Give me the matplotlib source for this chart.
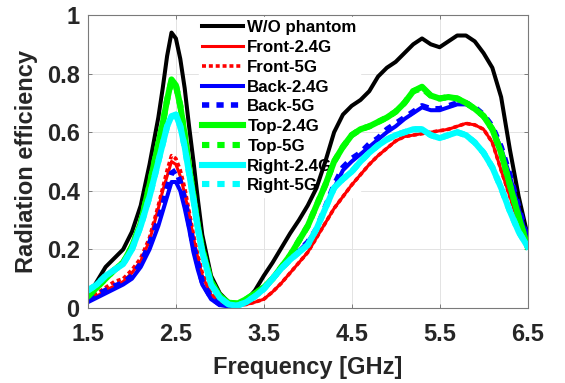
import matplotlib
matplotlib.use('Agg')
import matplotlib.pyplot as plt

# Frequency points (GHz)
freq = [1.5, 1.6, 1.7, 1.8, 1.9, 2.0, 2.1, 2.2, 2.3, 2.35, 2.4, 2.45, 2.5, 2.55, 2.6, 2.65,
        2.7, 2.75, 2.8, 2.9, 3.0, 3.1, 3.2, 3.3, 3.4, 3.5, 3.6, 3.7, 3.8, 3.9, 4.0, 4.1,
        4.2, 4.3, 4.4, 4.5, 4.6, 4.7, 4.8, 4.9, 5.0, 5.1, 5.2, 5.3, 5.4, 5.5, 5.6, 5.7,
        5.8, 5.9, 6.0, 6.1, 6.2, 6.3, 6.4, 6.5]

wo_phantom = [0.04, 0.09, 0.14, 0.17, 0.20, 0.26, 0.35, 0.49, 0.65, 0.75, 0.86, 0.94, 0.92, 0.85, 0.75, 0.62,
              0.50, 0.37, 0.25, 0.11, 0.05, 0.02, 0.012, 0.025, 0.06, 0.11, 0.155, 0.205, 0.255, 0.30, 0.35, 0.41,
              0.50, 0.60, 0.66, 0.69, 0.71, 0.74, 0.79, 0.82, 0.84, 0.87, 0.90, 0.92, 0.90, 0.89, 0.91, 0.93,
              0.93, 0.91, 0.87, 0.82, 0.72, 0.54, 0.38, 0.25]

front_24 = [0.02, 0.04, 0.06, 0.075, 0.09, 0.12, 0.16, 0.23, 0.34, 0.40, 0.45, 0.50, 0.49, 0.45, 0.39, 0.32,
            0.24, 0.17, 0.11, 0.045, 0.02, 0.01, 0.01, 0.012, 0.02, 0.03, 0.055, 0.085, 0.12, 0.155, 0.19, 0.24,
            0.29, 0.34, 0.38, 0.42, 0.455, 0.49, 0.52, 0.545, 0.57, 0.585, 0.59, 0.595, 0.60, 0.605, 0.61, 0.62,
            0.63, 0.625, 0.61, 0.565, 0.47, 0.38, 0.29, 0.22]

front_5 = [0.03, 0.05, 0.07, 0.09, 0.10, 0.13, 0.17, 0.24, 0.35, 0.41, 0.47, 0.52, 0.51, 0.47, 0.41, 0.33,
           0.25, 0.18, 0.12, 0.05, 0.02, 0.01, 0.01, 0.012, 0.02, 0.03, 0.055, 0.085, 0.12, 0.155, 0.19, 0.24,
           0.29, 0.34, 0.38, 0.42, 0.455, 0.49, 0.52, 0.545, 0.57, 0.585, 0.59, 0.595, 0.60, 0.605, 0.61, 0.62,
           0.63, 0.625, 0.61, 0.565, 0.47, 0.38, 0.29, 0.22]

back_24 = [0.02, 0.035, 0.05, 0.065, 0.08, 0.10, 0.14, 0.20, 0.28, 0.33, 0.38, 0.43, 0.43, 0.40, 0.34, 0.27,
           0.19, 0.13, 0.08, 0.03, 0.01, 0.005, 0.008, 0.02, 0.04, 0.065, 0.10, 0.135, 0.165, 0.195, 0.225, 0.27,
           0.34, 0.41, 0.47, 0.50, 0.525, 0.55, 0.575, 0.60, 0.62, 0.645, 0.665, 0.685, 0.675, 0.675, 0.685, 0.695,
           0.695, 0.68, 0.655, 0.615, 0.545, 0.45, 0.34, 0.23]

back_5 = [0.03, 0.045, 0.06, 0.075, 0.085, 0.11, 0.15, 0.22, 0.30, 0.35, 0.41, 0.46, 0.47, 0.43, 0.37, 0.29,
          0.21, 0.15, 0.09, 0.035, 0.012, 0.006, 0.008, 0.02, 0.04, 0.065, 0.10, 0.135, 0.165, 0.195, 0.225, 0.27,
          0.345, 0.42, 0.48, 0.51, 0.53, 0.56, 0.58, 0.61, 0.63, 0.65, 0.67, 0.69, 0.68, 0.68, 0.69, 0.70,
          0.70, 0.685, 0.66, 0.62, 0.55, 0.455, 0.345, 0.235]

top_24 = [0.04, 0.07, 0.10, 0.13, 0.155, 0.21, 0.29, 0.42, 0.56, 0.63, 0.71, 0.78, 0.76, 0.69, 0.59, 0.48,
          0.38, 0.28, 0.20, 0.09, 0.04, 0.018, 0.015, 0.03, 0.05, 0.07, 0.10, 0.14, 0.18, 0.23, 0.28, 0.35,
          0.42, 0.50, 0.55, 0.59, 0.61, 0.62, 0.635, 0.65, 0.67, 0.70, 0.74, 0.755, 0.725, 0.715, 0.72, 0.715,
          0.70, 0.68, 0.655, 0.61, 0.53, 0.42, 0.31, 0.21]

top_5 = [0.04, 0.07, 0.10, 0.13, 0.155, 0.21, 0.29, 0.42, 0.56, 0.63, 0.71, 0.775, 0.76, 0.69, 0.59, 0.48,
         0.38, 0.28, 0.20, 0.09, 0.04, 0.018, 0.015, 0.03, 0.05, 0.07, 0.10, 0.14, 0.18, 0.23, 0.28, 0.35,
         0.42, 0.50, 0.55, 0.59, 0.61, 0.62, 0.635, 0.65, 0.67, 0.70, 0.74, 0.75, 0.725, 0.715, 0.72, 0.715,
         0.70, 0.68, 0.655, 0.61, 0.53, 0.42, 0.31, 0.21]

right_24 = [0.06, 0.08, 0.11, 0.13, 0.15, 0.20, 0.28, 0.38, 0.50, 0.56, 0.62, 0.655, 0.66, 0.62, 0.55, 0.46,
            0.37, 0.27, 0.19, 0.08, 0.035, 0.012, 0.008, 0.02, 0.04, 0.065, 0.10, 0.135, 0.165, 0.19, 0.215, 0.27,
            0.34, 0.41, 0.44, 0.465, 0.50, 0.53, 0.555, 0.575, 0.59, 0.60, 0.61, 0.61, 0.59, 0.58, 0.59, 0.60,
            0.59, 0.565, 0.53, 0.48, 0.41, 0.33, 0.26, 0.21]

right_5 = [0.06, 0.08, 0.11, 0.13, 0.15, 0.20, 0.28, 0.38, 0.50, 0.56, 0.62, 0.65, 0.66, 0.62, 0.55, 0.46,
           0.37, 0.27, 0.19, 0.08, 0.035, 0.012, 0.008, 0.02, 0.04, 0.065, 0.10, 0.135, 0.165, 0.19, 0.215, 0.27,
           0.34, 0.41, 0.44, 0.465, 0.50, 0.53, 0.555, 0.575, 0.59, 0.60, 0.61, 0.61, 0.59, 0.58, 0.59, 0.60,
           0.59, 0.565, 0.53, 0.48, 0.41, 0.33, 0.26, 0.21]

xticks = [1.5, 2.5, 3.5, 4.5, 5.5, 6.5]
yticks = [0, 0.2, 0.4, 0.6, 0.8, 1]
ytick_labels = ['0', '0.2', '0.4', '0.6', '0.8', '1']

plt.rcParams['font.family'] = ['Liberation Sans', 'DejaVu Sans']
plt.rcParams['font.weight'] = 'bold'
txt = '#262626'

fig = plt.figure(figsize=(5.65, 3.83), dpi=100)
ax = fig.add_axes([88 / 565, 1 - 308 / 383, (527.5 - 88) / 565, (308 - 15) / 383])

ax.plot(freq, wo_phantom, color='black', lw=2.9, label='W/O phantom')
ax.plot(freq, front_24, color='red', lw=2.2, label='Front-2.4G')
ax.plot(freq, front_5, color='red', lw=2.6, dashes=(1.1, 0.8), label='Front-5G')
ax.plot(freq, back_24, color='blue', lw=2.9, label='Back-2.4G')
ax.plot(freq, back_5, color='blue', lw=4.0, dashes=(1.3, 1.3), label='Back-5G')
ax.plot(freq, top_24, color='#00ff00', lw=4.4, label='Top-2.4G')
ax.plot(freq, top_5, color='#00ff00', lw=4.4, dashes=(1.2, 1.3), label='Top-5G')
ax.plot(freq, right_24, color='cyan', lw=4.4, label='Right-2.4G')
ax.plot(freq, right_5, color='cyan', lw=4.4, dashes=(1.2, 1.3), label='Right-5G')

ax.set_xlim(1.5, 6.5)
ax.set_ylim(0, 1)
ax.set_xticks(xticks)
ax.set_xticklabels([str(t) for t in xticks])
ax.set_yticks(yticks)
ax.set_yticklabels(ytick_labels)
ax.grid(True, color='#e3e3e3', lw=0.7)
ax.set_axisbelow(True)
for s in ax.spines.values():
    s.set_color('#7a7a7a')
    s.set_linewidth(0.8)
ax.tick_params(direction='in', length=3, width=0.7, color='#7a7a7a',
               top=True, right=True, labelsize=17, labelcolor=txt)
ax.tick_params(axis='x', pad=11)
ax.tick_params(axis='y', pad=6)

ax.set_xlabel('Frequency [GHz]', fontsize=17, fontweight='bold', color=txt, labelpad=7)
ax.set_ylabel('Radiation efficiency', fontsize=17, fontweight='bold', color=txt, labelpad=6)

leg = ax.legend(loc='upper left', bbox_to_anchor=(199 / 565, 1 - 17 / 383),
                bbox_transform=fig.transFigure, fontsize=12.2, frameon=True,
                fancybox=False, edgecolor='white', facecolor='white', framealpha=1,
                handlelength=2.4, handletextpad=0.25, labelspacing=0.28,
                borderpad=0.2, borderaxespad=0)
leg.set_zorder(1.5)  # curves pass over the legend box, grid stays hidden
for t in leg.get_texts():
    t.set_fontweight('bold')
    t.set_color('black')

fig.savefig('out.png', dpi=100)
